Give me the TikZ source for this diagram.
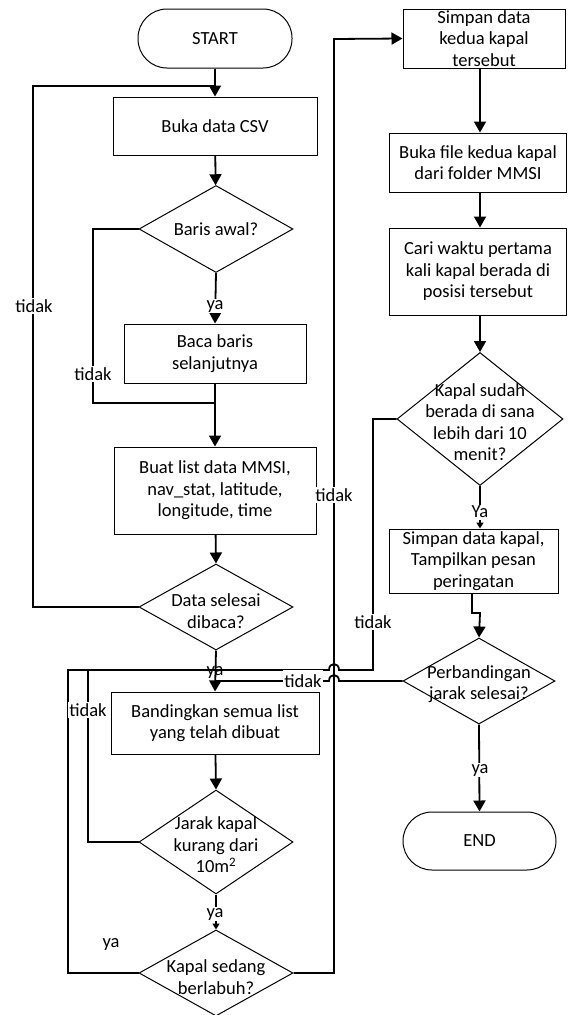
\documentclass[tikz,border=0pt]{standalone}
\usepackage{fontspec}
\setmainfont{Carlito}
\usetikzlibrary{shapes.geometric,arrows.meta}

\begin{document}
\begin{tikzpicture}[x=1pt,y=-1pt,
  font=\fontsize{18.5}{21.5}\selectfont,
  box/.style={draw, line width=1pt, rectangle, align=center, inner sep=0pt},
  term/.style={draw, line width=1pt, rectangle, rounded corners=29pt, inner sep=0pt},
  diam/.style={draw, line width=1pt, diamond, inner sep=0pt},
  txt/.style={align=center, inner sep=0pt},
  flow/.style={line width=1.8pt, -{Triangle[length=11pt,width=12pt]}},
  smallflow/.style={line width=1.8pt, -{Triangle[length=6pt,width=7pt]}},
  conn/.style={line width=1.8pt},
  lbl/.style={fill=white, inner sep=1.5pt}]
\useasboundingbox (0,0) rectangle (569,1015);

% ---- left column
\node[term, minimum width=154pt, minimum height=59pt] (start) at (215,38.5) {START};
\node[box, minimum width=204pt, minimum height=58pt] (b1) at (215,126) {Buka data CSV};
\node[diam, minimum width=154pt, minimum height=87pt] (d1) at (216,229) {};
\node[txt] (d1t) at (d1) {Baris awal?};
\node[box, minimum width=182pt, minimum height=59pt] (b2) at (215,353.5) {Baca baris\\selanjutnya};
\node[box, minimum width=202pt, minimum height=87pt] (b3) at (215,490.5) {Buat list data MMSI,\\nav\_stat, latitude,\\longitude, time};
\node[diam, minimum width=154pt, minimum height=86pt] (d2) at (216,607) {};
\node[txt] (d2t) at (216,611) {Data selesai\\dibaca?};
\node[box, minimum width=208pt, minimum height=62pt] (b4) at (215,723) {Bandingkan semua list\\yang telah dibuat};
\node[diam, minimum width=154pt, minimum height=104pt] (d3) at (216,842) {};
\node[txt] (d3t) at (216,845) {Jarak kapal\\kurang dari\\10m\textsuperscript{2}};
\node[diam, minimum width=154pt, minimum height=86pt] (d4) at (216,973) {};
\node[txt] (d4t) at (216,977) {Kapal sedang\\berlabuh?};

% ---- right column
\node[box, minimum width=162pt, minimum height=59pt] (r1) at (484,38.5) {Simpan data\\kedua kapal\\tersebut};
\node[box, minimum width=177pt, minimum height=59pt] (r2) at (478,162.5) {Buka file kedua kapal\\dari folder MMSI};
\node[box, minimum width=177pt, minimum height=87pt] (r3) at (478,271.5) {Cari waktu pertama\\kali kapal berada di\\posisi tersebut};
\node[diam, minimum width=166pt, minimum height=133pt] (d5) at (480,419) {};
\node[txt] (d5t) at (480,422) {Kapal sudah\\berada di sana\\lebih dari 10\\menit?};
\node[box, minimum width=169pt, minimum height=64pt] (r4) at (473.5,561) {Simpan data kapal,\\Tampilkan pesan\\peringatan};
\node[diam, minimum width=152pt, minimum height=86pt] (d6) at (479,681) {};
\node[txt] (d6t) at (479,684) {Perbandingan\\jarak selesai?};
\node[term, minimum width=153pt, minimum height=58pt] (end) at (479.5,841) {END};

% ---- helper points
\coordinate (jA) at (215,86);
\coordinate (jB) at (215,403);
\coordinate (jC) at (215,670);
\coordinate (jD) at (215,681);
\coordinate (rx) at (480,0);
\coordinate (jog) at (472,613);

% label drawn beneath the merging lines
\node[txt] (ya2) at (215,672) {ya};

% ---- main flow
\draw[flow] (start) -- (b1);
\draw[flow] (b1) -- (d1);
\draw[flow] (d1.south) -- (b2.north);
\draw[flow] (b2) -- (b3);
\draw[flow] (b3) -- (d2.north);
\draw[flow] (d2.south) -- (b4.north);
\draw[flow] (b4) -- (d3.north);
\draw[smallflow] (d3.south) -- (d4.north);

\draw[flow] (r1.south -| rx) -- (r2.north -| rx);
\draw[flow] (r2.south -| rx) -- (r3.north -| rx);
\draw[flow] (r3.south -| rx) -- (d5.north);
\draw[smallflow] (d5.south) -- (r4.north -| rx);
\draw[flow] (r4.south -| jog) -- (jog) -- (jog -| rx) -- (d6.north);
\draw[flow] (d6.south) -- (end.north);

% ---- loops back
\draw[conn] (d2.west) -- (33,607) -- (33,86) -- (jA);
\draw[conn] (d1.west) -- (93,229) -- (93,403) -- (jB);
\draw[conn] (d3.west) -- (88,842) -- (88,670) -- (jC);
\draw[conn] (d4.west) -- (68,973) -- (68,670) -- (88,670);
\draw[flow] (d4.east) -- (334,973) -- (334,39) -- (r1.west);
\draw[conn] (d5.west) -- (373,419) -- (373,670) -- (339,670)
  .. controls (339,662) and (329,662) .. (329,670) -- (jC);
\draw[conn] (d6.west) -- (339,681)
  .. controls (339,673) and (329,673) .. (329,681) -- (jD);

% ---- branch labels
\node[lbl] (t1) at (34,306) {tidak};
\node[lbl] (t2) at (93,374) {tidak};
\node[lbl] (y1) at (215,306) {ya};
\node[lbl] (t3) at (88,710) {tidak};
\node[txt] (y3) at (111,944) {ya};
\node[lbl] (y4) at (215,914) {ya};
\node[lbl] (t4) at (334,495) {tidak};
\node[lbl] (t5) at (373,622) {tidak};
\node[lbl, inner ysep=5pt] (t6) at (303,681) {tidak};
\node[lbl] (y5) at (480,512) {Ya};
\node[lbl] (y6) at (480,770) {ya};
\end{tikzpicture}
\end{document}
